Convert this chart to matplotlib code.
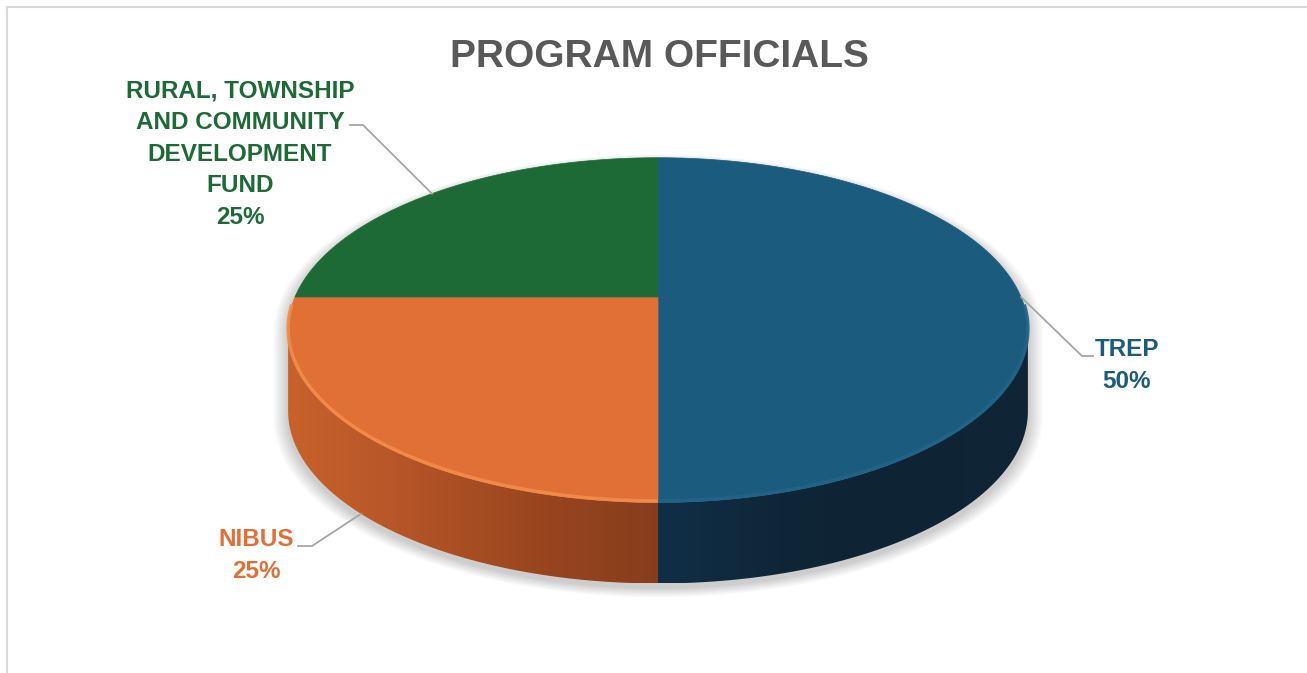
import numpy as np
import matplotlib.pyplot as plt
from matplotlib.patches import Polygon
from matplotlib.colors import LinearSegmentedColormap

plt.rcParams['font.family'] = ['Liberation Sans', 'DejaVu Sans']

# data
labels = ['TREP', 'NIBUS', 'RURAL, TOWNSHIP\nAND COMMUNITY\nDEVELOPMENT\nFUND']
values = [50, 25, 25]
top_colors = ['#1b5b7d', '#e07036', '#1e6a36']
side_colors = [['#0f2f47', '#0f2638', '#0e2333', '#102637'],
               ['#c8622c', '#b45427', '#9a461f', '#873d1d'],
               ['#124020', '#124020']]
rim_colors = ['#22648a', '#f28c4c', '#2a7a45']

# geometry in pixels (perspective pie)
XC, YC = 658, 297
A, B = 363, 166
P = 0.192
DEPTH = 81


def proj(theta, r=1.0):
    t = np.radians(theta)
    u, v = r * np.cos(t), r * np.sin(t)
    s = 1.0 / (1.0 + P * v)
    return XC + A * u * s, YC - B * v * s


fig = plt.figure(figsize=(13.07, 6.73), dpi=100)
ax = fig.add_axes([0, 0, 1, 1])

# chart border (left and top)
ax.plot([7, 7], [7, 673], color='#d9d9d9', lw=1.5)
ax.plot([7, 1307], [7, 7], color='#d9d9d9', lw=1.5)

total = sum(values)
starts, ends = [], []
acc = 0
for v in values:
    starts.append(90 - 360 * acc / total)
    acc += v
    ends.append(90 - 360 * acc / total)

vis_lo = 180 + np.degrees(np.arcsin(P))
vis_hi = 360 - np.degrees(np.arcsin(P))

# soft shadow under the pie
back = np.linspace(vis_hi - 360, vis_lo, 200)
front = np.linspace(vis_lo, vis_hi, 200)
sx = np.concatenate([proj(back)[0], proj(front)[0]])
sy = np.concatenate([proj(back)[1], proj(front)[1] + DEPTH])
for i in range(10):
    k = 1 + 0.004 * (i + 1)
    ax.add_patch(Polygon(np.column_stack([XC + (sx - XC) * k, YC + 40 + (sy - YC - 40) * k + 4]),
                         closed=True, facecolor='#000000', edgecolor='none', alpha=0.018, zorder=1))

# side walls
for i in range(len(values)):
    lo, hi = sorted([starts[i], ends[i]])
    for k in (-1, 0, 1):
        a = max(lo + 360 * k, vis_lo)
        b = min(hi + 360 * k, vis_hi)
        if a >= b:
            continue
        t = np.linspace(a, b, 200)
        tx, ty = proj(t)
        px = np.concatenate([tx, tx[::-1]])
        py = np.concatenate([ty, ty[::-1] + DEPTH])
        poly = Polygon(np.column_stack([px, py]), closed=True, facecolor='none', edgecolor='none')
        ax.add_patch(poly)
        cmap = LinearSegmentedColormap.from_list('side%d' % i, side_colors[i])
        grad = np.linspace(0, 1, 256).reshape(1, -1)
        img = ax.imshow(grad, cmap=cmap, aspect='auto', zorder=2,
                        extent=[px.min(), px.max(), py.max(), py.min()])
        img.set_clip_path(poly)

# top faces
for i in range(len(values)):
    t = np.linspace(starts[i], ends[i], 200)
    tx, ty = proj(t)
    px = np.concatenate([[XC], tx])
    py = np.concatenate([[YC], ty])
    ax.add_patch(Polygon(np.column_stack([px, py]), closed=True,
                         facecolor=top_colors[i], edgecolor=top_colors[i], lw=0.5, zorder=3))

# rim highlight on the front edge
for i in range(len(values)):
    lo, hi = sorted([starts[i], ends[i]])
    for k in (-1, 0, 1):
        a = max(lo + 360 * k, vis_lo - 8)
        b = min(hi + 360 * k, vis_hi + 8)
        if a >= b:
            continue
        t = np.linspace(a, b, 200)
        tx, ty = proj(t)
        ax.plot(tx, ty - 1.5, color=rim_colors[i], lw=2.5, alpha=0.9, zorder=4,
                solid_capstyle='butt')

# labels with leader lines (y = baseline of the last line)
label_pos = [(1127, 388), (256, 578), (240, 224)]
elbows = [[(1093, 356), (1082, 356)], [(298, 546), (312, 546)], [(350, 125), (363, 125)]]
for i in range(len(values)):
    mid = (starts[i] + ends[i]) / 2
    ex, ey = proj(mid)
    if np.sin(np.radians(mid)) < 0:
        ey = ey + DEPTH
    pts = elbows[i] + [(ex, ey)]
    ax.plot([p[0] for p in pts], [p[1] for p in pts], color='#a6a6a6', lw=1.3, zorder=5)
    pct = round(100 * values[i] / total)
    ax.text(label_pos[i][0], label_pos[i][1], '%s\n%d%%' % (labels[i], pct),
            ha='center', va='baseline', fontsize=17.5, fontweight='bold',
            color=top_colors[i], linespacing=1.48, multialignment='center', zorder=6)

ax.text(659, 67, 'PROGRAM OFFICIALS', ha='center', va='baseline',
        fontsize=28, fontweight='bold', color='#595959')

ax.set_xlim(0, 1307)
ax.set_ylim(673, 0)
ax.axis('off')

plt.savefig('out.png', dpi=100)
plt.close()
